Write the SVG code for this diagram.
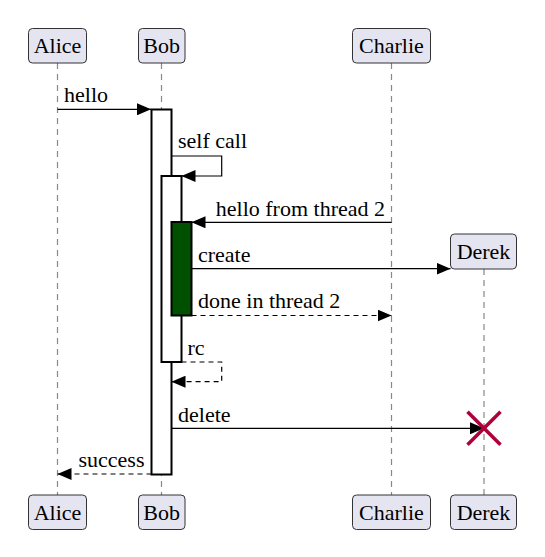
<svg xmlns="http://www.w3.org/2000/svg" width="545" height="557" viewBox="0 0 545 557">
<defs>
<marker id="ah" markerWidth="14" markerHeight="12" refX="14" refY="6" orient="auto" markerUnits="userSpaceOnUse"><path d="M0,0 L14,6 L0,12 Z" fill="#000"/></marker>
</defs>
<style>
text{font-family:'Liberation Serif','Times New Roman','DejaVu Serif',serif;font-size:22px;fill:#000}
.pbox{fill:#e5e5f2;stroke:#333;stroke-width:1}
.life{stroke:#888;stroke-width:1.2;stroke-dasharray:6,5;fill:none}
.act{fill:#fff;stroke:#000;stroke-width:2}
.msg{stroke:#000;stroke-width:1.2;fill:none}
.ret{stroke:#000;stroke-width:1.2;fill:none;stroke-dasharray:5,4}
.c{text-anchor:middle}
</style>
<rect width="545" height="557" fill="#fff"/>
<g id="lifelines">
<line class="life" x1="57.5" y1="63" x2="57.5" y2="495"/>
<line class="life" x1="161.5" y1="63" x2="161.5" y2="495"/>
<line class="life" x1="391.5" y1="63" x2="391.5" y2="495"/>
<line class="life" x1="484" y1="269" x2="484" y2="495"/>
</g>
<g id="activations">
<rect class="act" x="151.5" y="109.5" width="20" height="365"/>
<rect class="act" x="161.5" y="176" width="20" height="186"/>
<rect class="act" x="171.5" y="222" width="20" height="93.5" style="fill:#005000"/>
</g>
<g font-family="Liberation Serif, serif">
<g id="Alice">
<rect class="pbox" x="28.5" y="28.5" width="58" height="34.5" rx="4"/>
<text class="c" x="57.5" y="53.3">Alice</text>
<rect class="pbox" x="28.5" y="495" width="58" height="34.5" rx="4"/>
<text class="c" x="57.5" y="519.8">Alice</text>
</g>
<g id="Bob">
<rect class="pbox" x="138.5" y="28.5" width="46.5" height="34.5" rx="4"/>
<text class="c" x="161.7" y="53.3">Bob</text>
<rect class="pbox" x="138.5" y="495" width="46.5" height="34.5" rx="4"/>
<text class="c" x="161.7" y="519.8">Bob</text>
</g>
<g id="Charlie">
<rect class="pbox" x="352.5" y="28.5" width="78" height="34.5" rx="4"/>
<text class="c" x="391.5" y="53.3">Charlie</text>
<rect class="pbox" x="352.5" y="495" width="78" height="34.5" rx="4"/>
<text class="c" x="391.5" y="519.8">Charlie</text>
</g>
<g id="Derek">
<rect class="pbox" x="450.5" y="234" width="66" height="35" rx="4"/>
<text class="c" x="483.5" y="258.5">Derek</text>
<rect class="pbox" x="450.5" y="495" width="66" height="34.5" rx="4"/>
<text class="c" x="483.5" y="519.8">Derek</text>
</g>
</g>
<g id="connectors">
<line class="msg" x1="57.5" y1="109.3" x2="151" y2="109.3" marker-end="url(#ah)"/>
<text x="64" y="101.7">hello</text>
<polyline class="msg" points="171.5,156 221.7,156 221.7,176 181.5,176" marker-end="url(#ah)"/>
<text x="178" y="148.3">self call</text>
<line class="msg" x1="391.5" y1="222.3" x2="191.5" y2="222.3" marker-end="url(#ah)"/>
<text x="385" y="216" text-anchor="end">hello from thread 2</text>
<line class="msg" x1="191.5" y1="268.7" x2="450.5" y2="268.7" marker-end="url(#ah)"/>
<text x="198" y="261.7">create</text>
<line class="ret" x1="191.5" y1="315.5" x2="391.5" y2="315.5" marker-end="url(#ah)"/>
<text x="198" y="308.3">done in thread 2</text>
<polyline class="ret" points="181.5,362 221.7,362 221.7,381.7 171.5,381.7" marker-end="url(#ah)"/>
<text x="187.5" y="355">rc</text>
<line class="msg" x1="171.5" y1="428.3" x2="484" y2="428.3" marker-end="url(#ah)"/>
<text x="178" y="421.7">delete</text>
<line class="ret" x1="151.5" y1="474" x2="57.5" y2="474" marker-end="url(#ah)"/>
<text x="144.5" y="467.3" text-anchor="end">success</text>
</g>
<g id="destroy" stroke="#b0003a" stroke-width="3.5">
<line x1="467.5" y1="411.8" x2="500.5" y2="444.8"/>
<line x1="500.5" y1="411.8" x2="467.5" y2="444.8"/>
</g>
</svg>
